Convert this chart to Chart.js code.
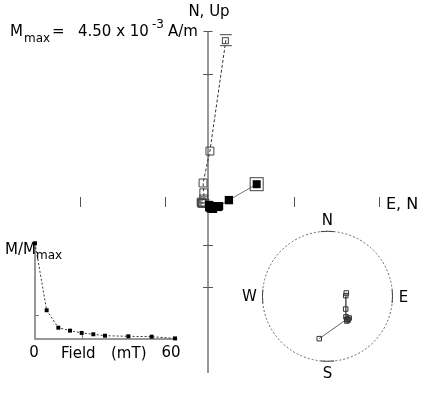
<!DOCTYPE html>
<html><head><meta charset="utf-8">
<script src="https://cdn.jsdelivr.net/npm/chart.js@4"></script>
<style>
html,body{margin:0;padding:0;background:#fff;}
#wrap{position:relative;width:427px;height:394px;overflow:hidden;}
#wrap canvas{position:absolute;left:0;top:0;}
</style></head><body>
<div id="wrap">
<canvas id="zij" width="427" height="394"></canvas>
<canvas id="decay" width="427" height="394"></canvas>
<canvas id="net" width="427" height="394"></canvas>
</div>
<script>
// ---- data ----
const STEPS = ['NRM','5','10','15','20','25','30','40','50','60'];
const FIELD_MT = [0,5,10,15,20,25,30,40,50,60];
const M_NORM = [1.00,0.30,0.118,0.087,0.063,0.049,0.034,0.028,0.024,0.006];
// orthogonal components, units of 1e-3 A/m
const EAST  = [1.28,0.55,0.26,0.29,0.21,0.13,0.08,0.05,0.03,0.03];
const NORTH = [0.47,0.05,-0.13,-0.11,-0.11,-0.18,-0.17,-0.15,-0.13,-0.08];
const UP    = [4.26,1.34,0.50,0.24,0.08,0.00,-0.03,-0.03,-0.03,-0.03];
// directions (degrees)
const DEC = [80,88,125,138,139,135,142,138,140,191];
const INC = [-66,-67,-62,-55,-50,-51,-50,-51,-52,-34];
const M_MAX = 4.50;
const V_TICKS = [3.375,-1.125,-2.25];
const H_TICKS = [-3.375,-1.125,2.25,4.5];
const DECAY_X_TICKS = [20];
const DECAY_Y_TICKS = [0.25];

const FONT = '"DejaVu Sans", Verdana, sans-serif';

function baseOptions(xmin,xmax,ymin,ymax){
  return {
    responsive:false, animation:false, events:[],
    layout:{padding:0, autoPadding:false},
    plugins:{legend:{display:false}, tooltip:{enabled:false}},
    scales:{
      x:{type:'linear', display:false, min:xmin, max:xmax},
      y:{type:'linear', display:false, min:ymin, max:ymax}
    }
  };
}

// custom NRM markers
function filledBoxed(){
  const c=document.createElement('canvas'); c.width=16; c.height=16;
  const g=c.getContext('2d');
  g.strokeStyle='#444'; g.lineWidth=1; g.strokeRect(1.5,1.5,13,13);
  g.fillStyle='#000'; g.fillRect(4,4,8,8);
  return c;
}
function openBarred(){
  const c=document.createElement('canvas'); c.width=14; c.height=14;
  const g=c.getContext('2d');
  g.strokeStyle='#444'; g.lineWidth=1;
  g.beginPath(); g.moveTo(1,1.5); g.lineTo(13,1.5); g.moveTo(1,12.5); g.lineTo(13,12.5); g.stroke();
  g.strokeRect(3.5,4.5,6,6);
  return c;
}

// ---- Zijderveld diagram ----
const zijPlugin = {
  id:'zijAxes',
  beforeDatasetsDraw(chart){
    const {ctx, scales:{x,y}} = chart;
    const x0=x.getPixelForValue(0), y0=y.getPixelForValue(0);
    ctx.save();
    ctx.strokeStyle='#999'; ctx.lineWidth=2;
    ctx.beginPath(); ctx.moveTo(x0,y.getPixelForValue(M_MAX)); ctx.lineTo(x0,y.getPixelForValue(-M_MAX)); ctx.stroke();
    ctx.strokeStyle='#555'; ctx.lineWidth=1;
    const yt=Math.round(y.getPixelForValue(M_MAX))+0.5;
    ctx.beginPath(); ctx.moveTo(x0-4.5,yt); ctx.lineTo(x0+4.5,yt); ctx.stroke();
    V_TICKS.forEach(v=>{const py=Math.round(y.getPixelForValue(v))+0.5;
      ctx.beginPath(); ctx.moveTo(x0-5,py); ctx.lineTo(x0+5,py); ctx.stroke();});
    H_TICKS.forEach(v=>{const px=Math.round(x.getPixelForValue(v))+0.5;
      ctx.beginPath(); ctx.moveTo(px,y0-5); ctx.lineTo(px,y0+5); ctx.stroke();});
    ctx.restore();
  },
  afterDraw(chart){
    const {ctx, scales:{x,y}} = chart;
    const x0=x.getPixelForValue(0), y0=y.getPixelForValue(0);
    ctx.save(); ctx.fillStyle='#000'; ctx.textBaseline='alphabetic'; ctx.textAlign='left';
    ctx.font='15px '+FONT; ctx.fillText('M',10,36);
    ctx.font='12px '+FONT; ctx.fillText('max',24,42);
    ctx.font='15px '+FONT; ctx.fillText('=',52,36);
    ctx.fillText('4.50 x 10',78,36);
    ctx.font='12px '+FONT; ctx.fillText('-3',152,28);
    ctx.font='15px '+FONT; ctx.fillText('A/m',168,36);
    ctx.textAlign='center'; ctx.fillText('N, Up',x0+1,16);
    ctx.textAlign='left'; ctx.font='16px '+FONT; ctx.fillText('E, N',386,y0+7);
    ctx.restore();
  }
};

new Chart(document.getElementById('zij'),{
  type:'scatter',
  data:{datasets:[
    {label:'horizontal', data:EAST.map((e,i)=>({x:e,y:NORTH[i]})), showLine:true,
     borderColor:'#777', borderWidth:1,
     pointStyle:STEPS.map((s,i)=>i===0?filledBoxed():'rect'), pointRadius:5.9,
     pointBackgroundColor:'#000', pointBorderColor:'#000', pointBorderWidth:0, clip:false},
    {label:'vertical', data:NORTH.map((n,i)=>({x:n,y:UP[i]})), showLine:true,
     borderColor:'#333', borderWidth:1, borderDash:[3,2],
     pointStyle:STEPS.map((s,i)=>i===0?openBarred():'rect'), pointRadius:5.6,
     pointBackgroundColor:'rgba(0,0,0,0)', pointBorderColor:'#444', pointBorderWidth:1, clip:false}
  ]},
  options:baseOptions(-5.474,5.763,-5.053,5.316),
  plugins:[zijPlugin]
});

// ---- decay inset ----
const decayPlugin = {
  id:'decayAxes',
  beforeDatasetsDraw(chart){
    const {ctx, scales:{x,y}} = chart;
    const x0=x.getPixelForValue(0), y0=y.getPixelForValue(0);
    ctx.save(); ctx.strokeStyle='#777'; ctx.lineWidth=1.5;
    ctx.beginPath(); ctx.moveTo(x0,y.getPixelForValue(1.01)); ctx.lineTo(x0,y0);
    ctx.lineTo(x.getPixelForValue(61),y0); ctx.stroke();
    ctx.lineWidth=1;
    DECAY_Y_TICKS.forEach(v=>{const py=Math.round(y.getPixelForValue(v))+0.5;
      ctx.beginPath(); ctx.moveTo(x0,py); ctx.lineTo(x0+4,py); ctx.stroke();});
    DECAY_X_TICKS.forEach(v=>{const px=Math.round(x.getPixelForValue(v))+0.5;
      ctx.beginPath(); ctx.moveTo(px,y0); ctx.lineTo(px,y0-4); ctx.stroke();});
    ctx.restore();
  },
  afterDraw(chart){
    const {ctx, scales:{x,y}} = chart;
    const y0=y.getPixelForValue(0);
    ctx.save(); ctx.fillStyle='#000'; ctx.textBaseline='alphabetic';
    ctx.font='15px '+FONT; ctx.textAlign='left';
    ctx.fillText('M/M',5,254);
    ctx.font='12px '+FONT; ctx.fillText('max',36,259);
    ctx.font='15px '+FONT; ctx.textAlign='center';
    ctx.fillText('0',x.getPixelForValue(0)-1,y0+18);
    ctx.fillText('60',x.getPixelForValue(60)-4,y0+18);
    ctx.textAlign='left';
    ctx.fillText('Field',61,y0+19);
    ctx.fillText('(mT)',111,y0+19);
    ctx.restore();
  }
};
new Chart(document.getElementById('decay'),{
  type:'scatter',
  data:{datasets:[{label:'M/Mmax', data:FIELD_MT.map((f,i)=>({x:f,y:M_NORM[i]})), showLine:true,
    borderColor:'#333', borderWidth:1, borderDash:[2,2],
    pointStyle:'rect', pointRadius:2.8, pointBackgroundColor:'#000', pointBorderColor:'#000', pointBorderWidth:0, clip:false}]},
  options:baseOptions(-15,168,-0.575,3.542),
  plugins:[decayPlugin]
});

// ---- equal-area stereonet ----
function eqArea(dec,inc){
  const r=Math.SQRT2*Math.sin((90-Math.abs(inc))*Math.PI/360);
  return {x:r*Math.sin(dec*Math.PI/180), y:r*Math.cos(dec*Math.PI/180)};
}
const netPlugin = {
  id:'netFrame',
  beforeDatasetsDraw(chart){
    const {ctx, scales:{x,y}} = chart;
    const cx=x.getPixelForValue(0), cy=y.getPixelForValue(0), R=x.getPixelForValue(1)-cx;
    ctx.save(); ctx.strokeStyle='#666'; ctx.lineWidth=1; ctx.setLineDash([2,2]);
    ctx.beginPath(); ctx.arc(cx,cy,R,0,Math.PI*2); ctx.stroke();
    ctx.setLineDash([]); ctx.strokeStyle='#444';
    [0,90,180,270].forEach(a=>{const t=(a-90)*Math.PI/180, d=6*Math.PI/180;
      ctx.beginPath(); ctx.arc(cx,cy,R,t-d,t+d); ctx.stroke();});
    ctx.restore();
  },
  afterDraw(chart){
    const {ctx, scales:{x,y}} = chart;
    const cx=x.getPixelForValue(0), cy=y.getPixelForValue(0), R=x.getPixelForValue(1)-cx;
    ctx.save(); ctx.fillStyle='#000'; ctx.font='15px '+FONT; ctx.textAlign='center'; ctx.textBaseline='middle';
    ctx.fillText('N',cx,cy-R-10);
    ctx.fillText('S',cx,cy+R+13);
    ctx.fillText('W',cx-R-13,cy+1);
    ctx.fillText('E',cx+R+11,cy+2);
    ctx.restore();
  }
};
new Chart(document.getElementById('net'),{
  type:'scatter',
  data:{datasets:[{label:'directions', data:DEC.map((d,i)=>eqArea(d,INC[i])), showLine:true,
    borderColor:'#666', borderWidth:1,
    pointStyle:'rect', pointRadius:3.2, pointBackgroundColor:'rgba(0,0,0,0)', pointBorderColor:'#333', pointBorderWidth:1, clip:false}]},
  options:baseOptions(-5.038,1.531,-1.503,4.558),
  plugins:[netPlugin]
});
</script>
</body></html>
